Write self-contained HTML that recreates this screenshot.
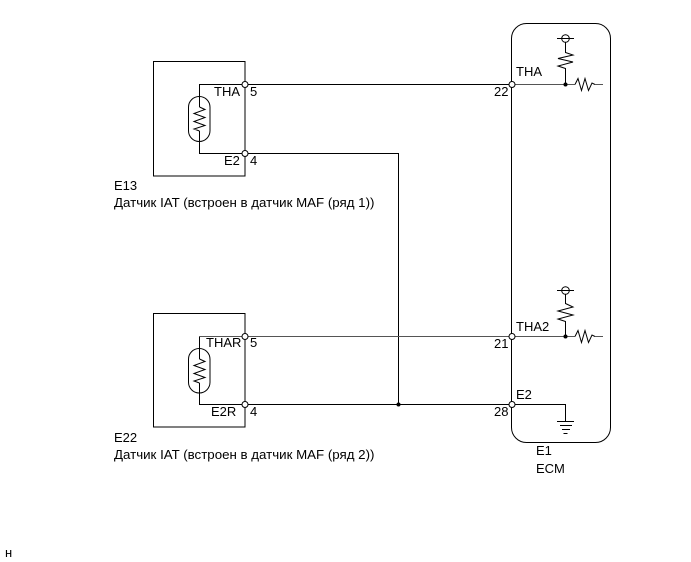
<!DOCTYPE html>
<html lang="ru">
<head>
<meta charset="utf-8">
<title>Схема датчика IAT</title>
<style>
html,body{margin:0;padding:0;background:#fff;width:691px;height:562px;overflow:hidden}
svg{display:block}
text{font-family:"Liberation Sans",sans-serif;font-size:13px;fill:#000}
text.cap{font-size:13.3px}
.l{fill:none;stroke:#000;stroke-width:1}
.g{fill:none;stroke:#555;stroke-width:1}
.c{fill:#fff;stroke:#000;stroke-width:1}
.o{fill:none;stroke:#000;stroke-width:1}
</style>
</head>
<body>
<svg width="691" height="562" viewBox="0 0 691 562" xmlns="http://www.w3.org/2000/svg">
<!-- sensor boxes -->
<rect class="l" x="153.500" y="61.500" width="91.500" height="114.500"/>
<rect class="l" x="153.500" y="313.500" width="91.500" height="113.500"/>
<!-- ECM -->
<rect class="l" x="511.500" y="23.500" width="99" height="419" rx="15" ry="15"/>

<!-- sensor 1 internals -->
<path class="l" d="M245 84.500H199.500V107M199.500 131V153.500H245"/>
<rect class="l" x="188.500" y="96.500" width="21.500" height="45" rx="10.700" ry="10.700"/>
<path class="l" d="M199.500 107L205 109.500L194 113.500L205 117.500L194 121.500L205 125.500L194 129L199.500 131"/>

<!-- sensor 2 internals -->
<path class="g" d="M245 336.500H199.500"/>
<path class="l" d="M199.500 336.500V359M199.500 383V404.500H245"/>
<rect class="l" x="188.500" y="348.500" width="21.500" height="44.500" rx="10.700" ry="10.700"/>
<path class="l" d="M199.500 359L205 361.500L194 365.500L205 369.500L194 373.500L205 377.500L194 381L199.500 383"/>

<!-- wires between -->
<path class="l" d="M245 84.500H512"/>
<path class="l" d="M245 153.500H398.500V404.500"/>
<path class="g" d="M245 336.500H512"/>
<path class="l" d="M245 404.500H512"/>
<circle cx="398.500" cy="404.500" r="2" fill="#000"/>

<!-- ECM internals top -->
<path class="g" d="M512 84.500H575"/>
<path class="l" d="M565.500 84.500V68.500L558 66L573 62L558 58.500L573 55L565.500 52.500V42"/>
<path class="l" d="M557 38.500H574"/>
<circle class="o" cx="565.500" cy="38.500" r="3.800"/>
<circle cx="565.500" cy="84.500" r="2" fill="#000"/>
<path class="l" d="M575 84.500L578 78.500L581.500 90.500L585 78.500L588.500 90.500L592 83L595 84.500"/>
<path class="g" d="M595 84.500H603"/>

<!-- ECM internals THA2 -->
<path class="g" d="M512 336.500H575"/>
<path class="l" d="M565.500 336.500V321.500L558 319L573 315L558 311L573 307L565.500 303.500V294"/>
<path class="l" d="M557 290.500H574"/>
<circle class="o" cx="565.500" cy="290.500" r="3.800"/>
<circle cx="565.500" cy="336.500" r="2" fill="#000"/>
<path class="l" d="M575 336.500L578 330.500L581.500 342.500L585 330.500L588.500 342.500L592 335L595 336.500"/>
<path class="g" d="M595 336.500H603"/>

<!-- ground -->
<path class="l" d="M512 404.500H565.500V421.500"/>
<path class="l" d="M557 421.500H574M560 425.500H572M562 429.500H570M563.500 433.500H567.500"/>

<!-- terminals -->
<circle class="c" cx="245" cy="84.500" r="3"/>
<circle class="c" cx="245" cy="153.500" r="3"/>
<circle class="c" cx="245" cy="336.500" r="3"/>
<circle class="c" cx="245" cy="404.500" r="3"/>
<circle class="c" cx="512" cy="84.500" r="3"/>
<circle class="c" cx="512" cy="336.500" r="3"/>
<circle class="c" cx="512" cy="404.500" r="3"/>

<!-- labels -->
<text x="214" y="96">THA</text>
<text x="250" y="96">5</text>
<text x="224" y="165">E2</text>
<text x="250" y="165">4</text>
<text x="114" y="190">E13</text>
<text class="cap" x="114" y="207">Датчик IAT (встроен в датчик MAF (ряд 1))</text>

<text x="206" y="347">THAR</text>
<text x="250" y="347">5</text>
<text x="211" y="416">E2R</text>
<text x="250" y="416">4</text>
<text x="114" y="442">E22</text>
<text class="cap" x="114" y="459">Датчик IAT (встроен в датчик MAF (ряд 2))</text>

<text x="516" y="76">THA</text>
<text x="494" y="96">22</text>
<text x="516" y="331">THA2</text>
<text x="494" y="348">21</text>
<text x="516" y="399">E2</text>
<text x="494" y="416">28</text>
<text x="536" y="455">E1</text>
<text x="536" y="473">ECM</text>
<text x="5" y="557">н</text>
</svg>
</body>
</html>
